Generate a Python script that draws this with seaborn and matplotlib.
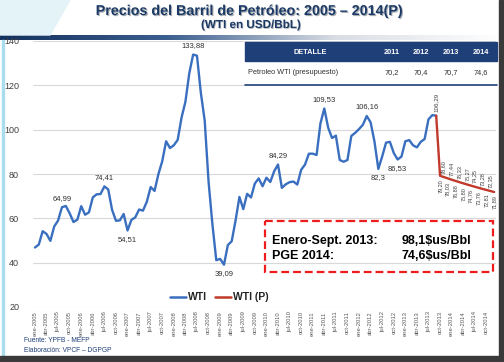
import numpy as np
import pandas as pd
import matplotlib
matplotlib.use("Agg")
import matplotlib.pyplot as plt
import matplotlib.patheffects as pe
from matplotlib.patches import Rectangle, Polygon
import seaborn as sns

# Precio mensual WTI (USD/Bbl), ene-2005 a sep-2013
wti = [
    46.84, 48.15, 54.19, 52.98, 49.83, 56.35, 59.00, 64.99, 65.59, 62.26, 58.32, 59.41,   # 2005
    65.49, 61.63, 62.69, 69.44, 70.84, 70.95, 74.41, 73.04, 63.80, 58.89, 59.08, 61.96,   # 2006
    54.51, 59.28, 60.44, 63.98, 63.46, 67.49, 74.12, 72.36, 79.92, 85.80, 94.77, 91.69,   # 2007
    92.97, 95.39, 105.45, 112.58, 125.40, 133.88, 133.37, 116.67, 104.11, 76.61, 57.31, 41.12,  # 2008
    41.71, 39.09, 47.94, 49.65, 59.03, 69.64, 64.15, 71.05, 69.41, 75.72, 77.99, 74.47,   # 2009
    78.33, 76.39, 81.20, 84.29, 73.74, 75.34, 76.32, 76.60, 75.24, 81.89, 84.25, 89.15,   # 2010
    89.17, 88.58, 102.86, 109.53, 100.90, 96.26, 97.30, 86.33, 85.52, 86.32, 97.16, 98.56,  # 2011
    100.27, 102.20, 106.16, 103.32, 94.66, 82.30, 87.90, 94.13, 94.51, 89.49, 86.53, 87.86,  # 2012
    94.76, 95.31, 92.94, 92.02, 94.51, 95.77, 104.67, 106.57, 106.29,                    # 2013
]
# Proyeccion oct-2013 a dic-2014 (empieza en el ultimo dato real)
wti_p = [106.29, 79.20, 78.60, 78.03, 77.44, 76.88, 76.33, 75.80, 75.27,
         74.76, 74.25, 73.76, 73.28, 72.81, 72.35, 71.89]

meses = ["ene", "abr", "jul", "oct"]
anios = list(range(2005, 2015))
tick_labels = [f"{m}-{a}" for a in anios for m in meses]

# etiquetas de puntos destacados (indice de mes, texto, posicion)
etiquetas = [(7, "64,99", "up"), (18, "74,41", "up"), (24, "54,51", "down"),
             (41, "133,88", "up"), (49, "39,09", "down"), (63, "84,29", "up"),
             (75, "109,53", "up"), (86, "106,16", "up"), (89, "82,3", "down"),
             (94, "86,53", "down")]

tabla_cols = ["DETALLE", "2011", "2012", "2013", "2014"]
tabla_fila = ["Petroleo WTI (presupuesto)", "70,2", "70,4", "70,7", "74,6"]

df = pd.concat([
    pd.DataFrame({"mes": np.arange(len(wti)), "precio": wti, "serie": "WTI"}),
    pd.DataFrame({"mes": np.arange(len(wti) - 1, len(wti) - 1 + len(wti_p)),
                  "precio": wti_p, "serie": "WTI (P)"}),
])

sns.set_style("white")
plt.rcParams["font.family"] = ["Liberation Sans", "DejaVu Sans"]

W, H = 504, 362
fig = plt.figure(figsize=(W / 100, H / 100), dpi=100)
fx = lambda px: px / W
fy = lambda py: 1 - py / H

# decoracion de la diapositiva
bg = fig.add_axes([0, 0, 1, 1], zorder=-5)
bg.set_xlim(0, W); bg.set_ylim(H, 0); bg.axis("off")
bg.add_patch(Polygon([[0, 0], [70, 0], [50, 35], [0, 35]], color="#e3f3f8"))
grad = np.linspace(0, 1, 256).reshape(1, -1)
cmap = matplotlib.colors.LinearSegmentedColormap.from_list("g", ["#14305e", "#3b5f8f", "#d9dde4", "#ffffff"])
bg.imshow(grad, extent=[0, W, 40, 35], aspect="auto", cmap=cmap)
bg.add_patch(Rectangle((2, 40), 2, 315, color="#a9dcec"))
bg.add_patch(Rectangle((0, 356), W, 6, color="#3a3a3a"))
bg.add_patch(Rectangle((499, 0), 5, H, color="#3a3a3a"))

fig.text(fx(249), fy(11), "Precios del Barril de Petróleo: 2005 – 2014(P)", ha="center", va="center",
         fontsize=10.3, fontweight="bold", color="#1b3a66",
         path_effects=[pe.withSimplePatchShadow(offset=(0.8, -0.8), alpha=0.35)])
fig.text(fx(251), fy(25), "(WTI en USD/BbL)", ha="center", va="center",
         fontsize=8.4, fontweight="bold", color="#1b3a66",
         path_effects=[pe.withSimplePatchShadow(offset=(0.6, -0.6), alpha=0.3)])

ax = fig.add_axes([fx(33), fy(307), fx(496) - fx(33), fy(41) - fy(307)])
ax.set_facecolor("none")
sns.lineplot(data=df, x="mes", y="precio", hue="serie", palette={"WTI": "#3a6fc0", "WTI (P)": "#c0392b"},
             linewidth=1.7, ax=ax, legend=False)
ax.set_xlim(-0.5, 119.5)
ax.set_ylim(20, 140)
ax.set_yticks(range(20, 141, 20))
ax.yaxis.grid(True, color="#d9d9d9", linewidth=0.8)
ax.set_xticks(range(0, 120, 3))
ax.set_xticklabels(tick_labels, rotation=90, fontsize=4.2, color="#595959")
ax.tick_params(axis="y", labelsize=6.5, labelcolor="#404040", length=0, pad=10)
ax.tick_params(axis="x", length=0, pad=3)
ax.set_xlabel(""); ax.set_ylabel("")
sns.despine(ax=ax, left=True, bottom=True)

for i, txt, pos in etiquetas:
    dy = 2.5 if pos == "up" else -2.5
    ax.text(i, wti[i] + dy, txt, ha="center", va="bottom" if pos == "up" else "top",
            fontsize=5.5, color="#303030")
ax.text(len(wti) - 1, wti[-1] + 1.5, "106,29", rotation=90, ha="center", va="bottom",
        fontsize=4.5, color="#404040")
for k, v in enumerate(wti_p[1:]):
    i = len(wti) + k
    txt = f"{v:.2f}".replace(".", ",")
    if k % 2 == 0:
        ax.text(i, v - 1.5, txt, rotation=90, ha="center", va="top", fontsize=4, color="#404040")
    else:
        ax.text(i, v + 1.5, txt, rotation=90, ha="center", va="bottom", fontsize=4, color="#404040")

# leyenda manual
lax = fig.add_axes([0, 0, 1, 1], zorder=5)
lax.set_xlim(0, W); lax.set_ylim(H, 0); lax.axis("off")
lax.plot([170, 186], [297, 297], color="#3a6fc0", lw=1.8)
lax.text(188, 297, "WTI", va="center", fontsize=7.5, fontweight="bold", color="#222222")
lax.plot([215, 231], [297, 297], color="#c0392b", lw=1.8)
lax.text(233, 297, "WTI (P)", va="center", fontsize=7.5, fontweight="bold", color="#222222")

# tabla de presupuesto
lax.add_patch(Rectangle((245, 60), 252, 26, color="white"))
lax.add_patch(Rectangle((245, 42), 252, 19, color="#1f3f78"))
lax.plot([245, 497], [84.5, 84.5], color="#1f3f78", lw=1.2)
col_x = [310, 392, 421, 451, 481]
for j, (c, r) in enumerate(zip(tabla_cols, tabla_fila)):
    lax.text(col_x[j], 52, c, ha="center", va="center", fontsize=5.3, fontweight="bold", color="white")
    if j == 0:
        lax.text(248, 73, r, ha="left", va="center", fontsize=5.3, color="#303030")
    else:
        lax.text(col_x[j], 73, r, ha="center", va="center", fontsize=5.3, color="#303030")

# recuadro rojo
lax.add_patch(Rectangle((265, 221), 228, 51, fill=False, edgecolor="#ee1c1c", lw=1.6, ls=(0, (3.5, 1.8))))
lax.text(272, 241, "Enero-Sept. 2013:", va="center", fontsize=9, fontweight="bold", color="black")
lax.text(471, 241, "98,1$us/Bbl", va="center", ha="right", fontsize=9, fontweight="bold", color="black")
lax.text(272, 256, "PGE 2014:", va="center", fontsize=9, fontweight="bold", color="black")
lax.text(471, 256, "74,6$us/Bbl", va="center", ha="right", fontsize=9, fontweight="bold", color="black")

lax.text(24, 340, "Fuente: YPFB - MEFP", va="center", fontsize=4.8, color="#1f3f78")
lax.text(24, 351, "Elaboración: VPCF – DGPGP", va="center", fontsize=4.8, color="#1f3f78")

fig.savefig("out.png", dpi=100)
